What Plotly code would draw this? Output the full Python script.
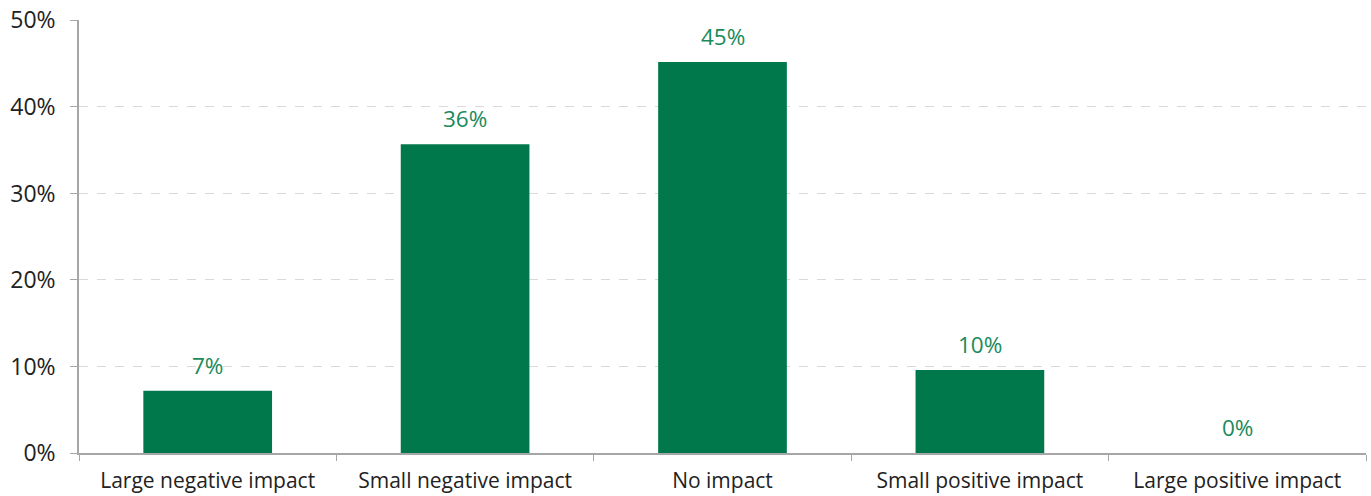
import plotly.graph_objects as go

categories = ["Large negative impact", "Small negative impact", "No impact",
              "Small positive impact", "Large positive impact"]
values = [7.2, 35.7, 45.2, 9.6, 0.0]
labels = ["7%", "36%", "45%", "10%", "0%"]
y_ticks = [0, 10, 20, 30, 40, 50]
y_tick_text = ["0%", "10%", "20%", "30%", "40%", "50%"]

BAR = "#00784C"
LABEL = "#1A8A5C"
FONT = "Open Sans, Noto Sans, sans-serif"

fig = go.Figure(go.Bar(x=categories, y=values, marker=dict(color=BAR, line=dict(width=0)),
                       hoverinfo="skip"))

for c, v, t in zip(categories, values, labels):
    fig.add_annotation(x=c, y=v, text=t, showarrow=False, yanchor="bottom", yshift=8,
                       font=dict(family=FONT, size=22.5, color=LABEL))

fig.update_layout(
    width=1371, height=496,
    margin=dict(l=79, r=5, t=20, b=43, autoexpand=False),
    paper_bgcolor="white", plot_bgcolor="white",
    bargap=0.5, showlegend=False,
    font=dict(family=FONT, color="#222222"),
)
fig.update_xaxes(
    tickson="boundaries", ticks="outside", ticklen=6, tickcolor="#A6A6A6",
    showline=True, linecolor="#A6A6A6", linewidth=1.5, automargin=False,
    tickfont=dict(size=21, color="#222222"), showgrid=False,
    ticklabelstandoff=8,
)
fig.update_yaxes(
    range=[0, 50.05], tickvals=y_ticks, ticktext=y_tick_text,
    ticks="outside", ticklen=7, tickcolor="#A6A6A6", automargin=False,
    showline=True, linecolor="#A6A6A6", linewidth=1.5,
    showgrid=True, gridcolor="#D9D9D9", griddash="dash", gridwidth=1,
    tickfont=dict(size=23, color="#222222"), zeroline=False,
    ticklabeloverflow="allow", ticklabelstandoff=10,
)

fig.write_html("out.html", config={"displayModeBar": False},
               post_script="document.body.style.margin='0';document.body.style.overflow='hidden';")
